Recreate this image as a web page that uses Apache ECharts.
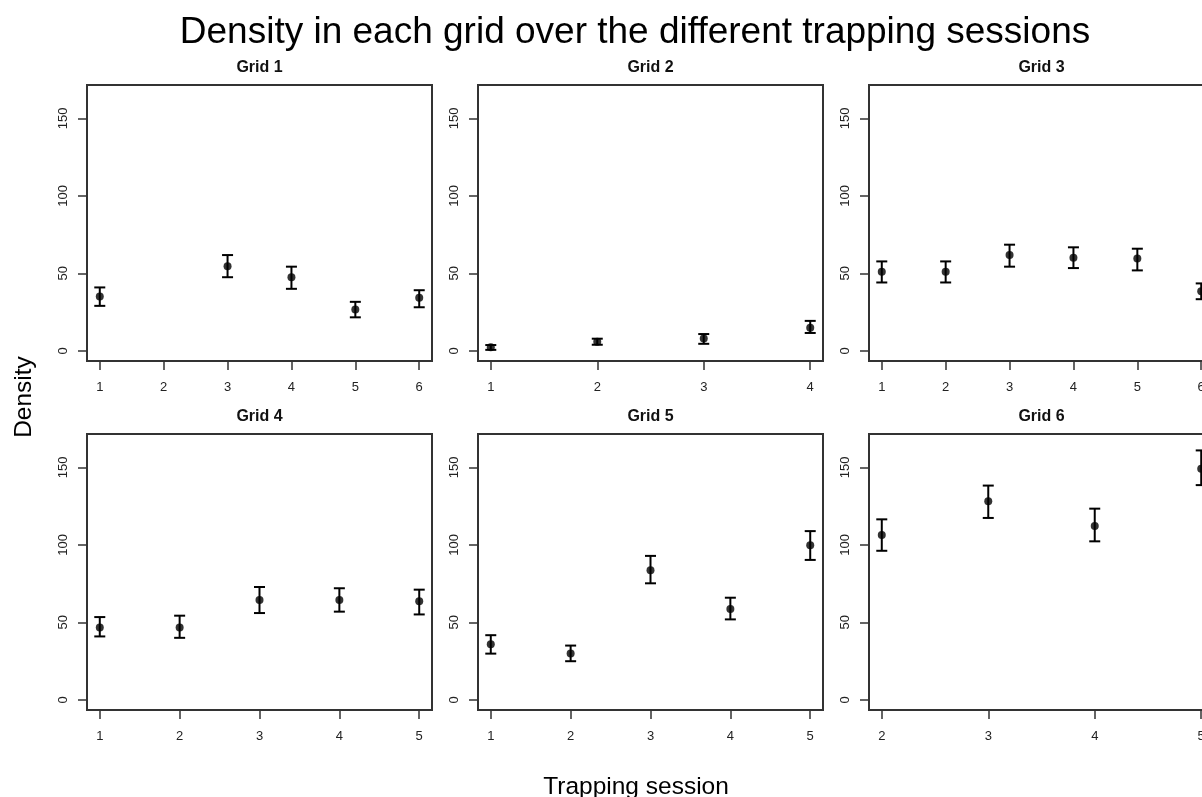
<!DOCTYPE html>
<html>
<head>
<meta charset="utf-8">
<script src="https://cdn.jsdelivr.net/npm/echarts@6/dist/echarts.min.js"></script>
<style>
  html, body { margin: 0; padding: 0; background: #fff; overflow: hidden; }
  #chart { width: 1240px; height: 797px; }
</style>
</head>
<body>
<div id="chart"></div>
<script>
// values (mean density with lower / upper error bar ends)
const grid1Session = [1, 3, 4, 5, 6];
const grid1Density = [35, 54.5, 47.5, 26.6, 34.2];
const grid1Lower = [29, 47.5, 40, 21.6, 28.1];
const grid1Upper = [40.9, 61.8, 54.3, 31.6, 39.1];

const grid2Session = [1, 2, 3, 4];
const grid2Density = [2.2, 5.8, 8.0, 14.9];
const grid2Lower = [0.6, 3.9, 4.5, 11.5];
const grid2Upper = [3.7, 7.8, 10.8, 19.3];

const grid3Session = [1, 2, 3, 4, 5, 6];
const grid3Density = [51, 51, 61.8, 60.1, 59.5, 38.5];
const grid3Lower = [44.1, 44.1, 54.3, 53.4, 51.9, 33.3];
const grid3Upper = [57.7, 57.7, 68.5, 66.8, 65.9, 43.5];

const grid4Session = [1, 2, 3, 4, 5];
const grid4Density = [46.7, 46.7, 64.4, 64.4, 63.6];
const grid4Lower = [40.9, 40, 56, 56.9, 55.1];
const grid4Upper = [53.4, 54.3, 72.8, 72, 71.1];

const grid5Session = [1, 2, 3, 4, 5];
const grid5Density = [35.9, 29.8, 83.7, 58.6, 99.7];
const grid5Lower = [29.8, 24.9, 75.2, 51.9, 90.3];
const grid5Upper = [41.7, 35, 92.9, 65.9, 108.9];

const grid6Session = [2, 3, 4, 5];
const grid6Density = [106.4, 128.2, 112.2, 149.2];
const grid6Lower = [96.2, 117.4, 102.3, 138.6];
const grid6Upper = [116.5, 138.3, 123.4, 161];

const gridNames = ['Grid 1', 'Grid 2', 'Grid 3', 'Grid 4', 'Grid 5', 'Grid 6'];
const yTicks = [0, 50, 100, 150];

const panels = [
    [grid1Session, grid1Density, grid1Lower, grid1Upper],
    [grid2Session, grid2Density, grid2Lower, grid2Upper],
    [grid3Session, grid3Density, grid3Lower, grid3Upper],
    [grid4Session, grid4Density, grid4Lower, grid4Upper],
    [grid5Session, grid5Density, grid5Lower, grid5Upper],
    [grid6Session, grid6Density, grid6Lower, grid6Upper]
];

var myChart = echarts.init(document.getElementById('chart'));

// the right column runs past the window edge, like the cropped original
const colLeft = [87, 478, 869];
const rowTop = [85, 434];
const boxW = 345, boxH = 276;
const labelFont = '"Liberation Sans", Arial, sans-serif';

let grids = [], xAxes = [], yAxes = [], series = [], graphics = [];

panels.forEach(function (p, i) {
    const sessions = p[0], dens = p[1], lo = p[2], hi = p[3];
    const col = i % 3, row = Math.floor(i / 3);
    // tick positions: every session between first and last
    let xTicks = [];
    for (let s = sessions[0]; s <= sessions[sessions.length - 1]; s++) xTicks.push(s);
    const span = xTicks[xTicks.length - 1] - xTicks[0];

    grids.push({
        left: colLeft[col], top: rowTop[row], width: boxW, height: boxH,
        show: true, borderColor: '#333', borderWidth: 2, backgroundColor: 'transparent'
    });
    xAxes.push({
        type: 'value', gridIndex: i,
        min: xTicks[0] - span * 0.04,
        max: xTicks[xTicks.length - 1] + span * 0.04,
        axisLine: { show: false, onZero: false },
        splitLine: { show: false },
        axisTick: { show: true, inside: false, length: 9, customValues: xTicks,
            lineStyle: { color: '#333', width: 1.5 } },
        axisLabel: { customValues: xTicks, margin: 20, color: '#222',
            fontFamily: labelFont, fontSize: 13 }
    });
    yAxes.push({
        type: 'value', gridIndex: i, min: -6.6, max: 171.6,
        axisLine: { show: false, onZero: false },
        splitLine: { show: false },
        axisTick: { show: true, inside: false, length: 9, customValues: yTicks,
            lineStyle: { color: '#333', width: 1.5 } },
        axisLabel: { customValues: yTicks, rotate: 90, margin: 17, color: '#222',
            fontFamily: labelFont, fontSize: 13 }
    });

    series.push({
        type: 'custom', xAxisIndex: i, yAxisIndex: i,
        data: sessions.map(function (s, k) { return [s, lo[k], hi[k]]; }),
        renderItem: function (params, api) {
            const a = api.coord([api.value(0), api.value(1)]);
            const b = api.coord([api.value(0), api.value(2)]);
            const st = { stroke: '#000', lineWidth: 2 };
            return {
                type: 'group',
                children: [
                    { type: 'line', shape: { x1: a[0], y1: a[1], x2: b[0], y2: b[1] }, style: st },
                    { type: 'line', shape: { x1: a[0] - 5.5, y1: a[1], x2: a[0] + 5.5, y2: a[1] }, style: st },
                    { type: 'line', shape: { x1: b[0] - 5.5, y1: b[1], x2: b[0] + 5.5, y2: b[1] }, style: st }
                ]
            };
        },
        silent: true
    });
    series.push({
        type: 'scatter', xAxisIndex: i, yAxisIndex: i,
        data: sessions.map(function (s, k) { return [s, dens[k]]; }),
        symbol: 'circle', symbolSize: 8,
        itemStyle: { color: '#000' },
        silent: true
    });

    graphics.push({
        type: 'text', x: colLeft[col] + boxW / 2, y: rowTop[row] - 17,
        style: { text: gridNames[i], fill: '#111', align: 'center', verticalAlign: 'middle',
            font: 'bold 16px "Liberation Sans", Arial, sans-serif' }
    });
});

graphics.push({
    type: 'text', x: 635, y: 33,
    style: { text: 'Density in each grid over the different trapping sessions', fill: '#000',
        align: 'center', verticalAlign: 'middle', font: '37px "Liberation Sans", Arial, sans-serif' }
});
graphics.push({
    type: 'text', x: 24, y: 397, rotation: Math.PI / 2,
    style: { text: 'Density', fill: '#000', align: 'center', verticalAlign: 'middle',
        font: '24.5px "Liberation Sans", Arial, sans-serif' }
});
graphics.push({
    type: 'text', x: 636, y: 787,
    style: { text: 'Trapping session', fill: '#000', align: 'center', verticalAlign: 'middle',
        font: '24.5px "Liberation Sans", Arial, sans-serif' }
});

var option = {
    backgroundColor: '#fff',
    animation: false,
    grid: grids,
    xAxis: xAxes,
    yAxis: yAxes,
    series: series,
    graphic: graphics
};

myChart.setOption(option);
</script>
</body>
</html>
